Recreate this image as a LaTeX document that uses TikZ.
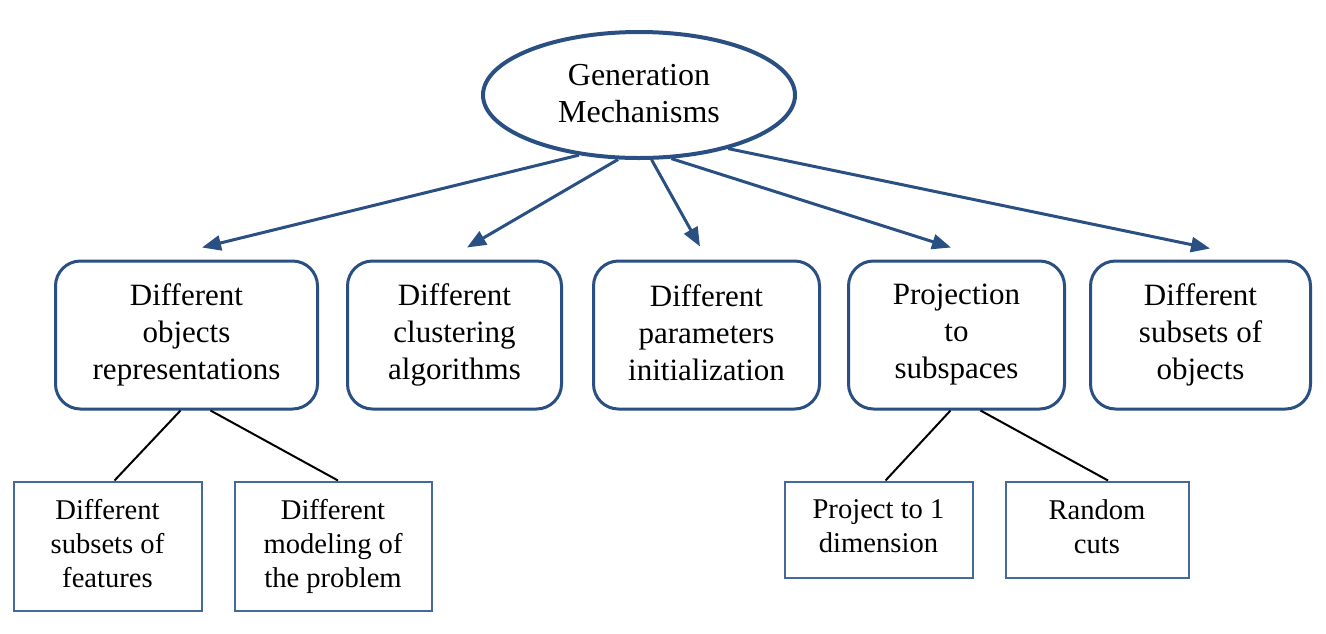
\documentclass[tikz,border=0pt]{standalone}
\usepackage{fontspec}
\setmainfont{Liberation Serif}
\usetikzlibrary{shapes.geometric,arrows.meta}

\definecolor{mechblue}{RGB}{42,79,130}
\definecolor{leafblue}{RGB}{70,105,155}
\newcommand\boxstrut[1]{\rule[-#1\baselineskip]{0pt}{\baselineskip}}

\begin{document}
\begin{tikzpicture}[x=0.5pt,y=-0.5pt]
\tikzstyle{every node}+=[inner sep=0pt,align=center]
\tikzstyle{root}=[ellipse,draw=mechblue,line width=2pt,minimum width=156pt,minimum height=63pt,font=\fontsize{16}{18.5}\selectfont,
  execute at begin node={\boxstrut{0.07}},execute at end node={\boxstrut{0.07}}]
\tikzstyle{branch}=[rectangle,rounded corners=12.5pt,draw=mechblue,line width=1.5pt,minimum height=74pt,font=\fontsize{15.5}{18.5}\selectfont,
  execute at begin node={\boxstrut{0.13}},execute at end node={\boxstrut{0.13}}]
\tikzstyle{leaf}=[rectangle,draw=leafblue,line width=1pt,font=\fontsize{14.3}{17}\selectfont,
  execute at begin node={\boxstrut{0.18}},execute at end node={\boxstrut{0.18}}]
\tikzstyle{genarrow}=[draw=mechblue,line width=1.5pt,-{Triangle[length=9.5pt,width=7.5pt]}]
\useasboundingbox (0,0) rectangle (1326,633);
% root
\node [root] (gen) at (639,95) {Generation\\Mechanisms};
% branches
\node [branch,minimum width=131pt] (objrep) at (186.5,335) {Different\\objects\\representations};
\node [branch,minimum width=107pt] (clust) at (454.5,335) {Different\\clustering\\algorithms};
\node [branch,minimum width=113pt] (param) at (706.5,335) {Different\\parameters\\initialization};
\node [branch,minimum width=108pt] (proj) at (956.5,335) {Projection\\to\\subspaces};
\node [branch,minimum width=110pt] (subobj) at (1200.5,335) {Different\\subsets of\\objects};
% leaves
\node [leaf,minimum width=94pt,minimum height=64.5pt] (feat) at (107.5,546) {Different\\subsets of\\features};
\node [leaf,minimum width=98.5pt,minimum height=64.5pt] (model) at (333,546) {Different\\modeling of\\the problem};
\node [leaf,minimum width=94pt,minimum height=48pt] (onedim) at (878.5,529.5) {Project to 1\\dimension};
\node [leaf,minimum width=91.5pt,minimum height=48pt] (cuts) at (1097,529.5) {Random\\cuts};
% arrows
\draw [genarrow] (gen.-135) -- ([shift={(15.5,-12)}]objrep.north);
\draw [genarrow] (gen.-108) -- ([shift={(12.5,-12)}]clust.north);
\draw [genarrow] (gen.-79) -- ([shift={(-6.5,-13)}]param.north);
\draw [genarrow] (gen.-63) -- ([shift={(-5.5,-12)}]proj.north);
\draw [genarrow] (gen.-31) -- ([shift={(9.5,-11)}]subobj.north);
% sub-branches
\draw [black,line width=1pt] ([xshift=-3pt]objrep.south) -- ([xshift=3.5pt]feat.north);
\draw [black,line width=1pt] ([xshift=12pt]objrep.south) -- ([xshift=2.5pt]model.north);
\draw [black,line width=1pt] ([xshift=-3pt]proj.south) -- ([xshift=3.5pt]onedim.north);
\draw [black,line width=1pt] ([xshift=12pt]proj.south) -- ([xshift=5.5pt]cuts.north);
\end{tikzpicture}
\end{document}
